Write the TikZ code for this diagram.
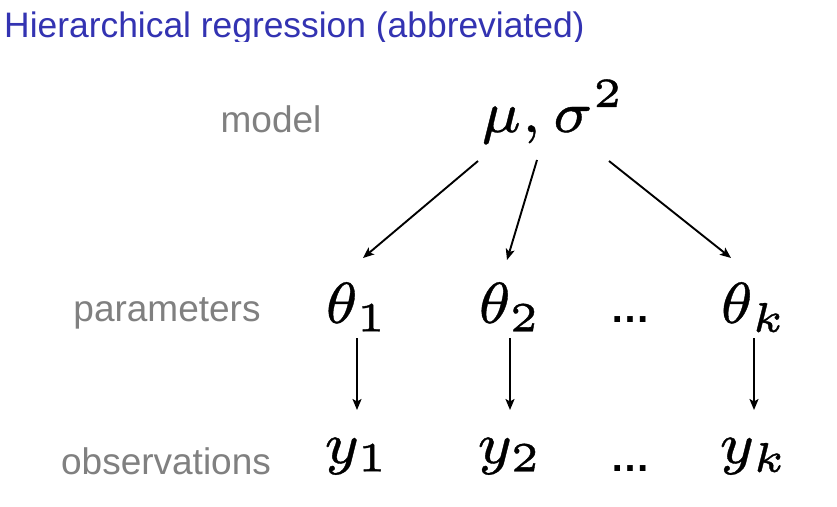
\documentclass[tikz,border=0pt]{standalone}
\usepackage{graphicx}
\usepackage[no-math]{fontspec}
\newfontfamily\labelfont{Liberation Sans}
\usetikzlibrary{arrows.meta}
\definecolor{titleblue}{RGB}{51,51,178}
\definecolor{labelgray}{RGB}{128,128,128}
\newcommand{\bigmath}[1]{\scalebox{8.3}{\special{pdf:bcontent}\special{pdf:code 2 Tr 0.045 w}\scriptsize$#1$\special{pdf:econtent}}}
\tikzset{
  titletext/.style={font=\labelfont\fontsize{35.4}{40}\selectfont, text=titleblue, inner sep=0pt},
  leveltext/.style={font=\labelfont\fontsize{37}{42}\selectfont, text=labelgray, inner sep=0pt, anchor=base},
  mathtext/.style={inner sep=0pt, anchor=base},
  dotstext/.style={font=\labelfont\bfseries\fontsize{40}{44}\selectfont, inner sep=0pt, anchor=base},
  arr/.style={line width=1.9pt, -{Stealth[length=11pt,width=9pt,inset=2.5pt]}}
}
\begin{document}
\begin{tikzpicture}[x=1pt,y=-1pt]
\useasboundingbox (0,0) rectangle (837,506);
\fill[white] (0,0) rectangle (837,506);
% title (cropped at the bottom as in the reference)
\begin{scope}
\clip (0,0) rectangle (837,41);
\node[titletext, anchor=base west] (title) at (4,37) {Hierarchical regression (abbreviated)};
\end{scope}
% level labels
\node[leveltext] (model) at (271,132) {model};
\node[leveltext] (params) at (167,321) {parameters};
\node[leveltext] (obs) at (166,474) {observations};
% math nodes
\node[mathtext, anchor=base west] (mu) at (481,132) {\bigmath{\mu,\sigma^2}};
\node[mathtext] (t1) at (357,323) {\bigmath{\theta_1}};
\node[mathtext] (t2) at (510,323) {\bigmath{\theta_2}};
\node[dotstext] (tdots) at (630,322) {…};
\node[mathtext] (tk) at (754,323) {\bigmath{\theta_k}};
\node[mathtext] (y1) at (357,463) {\bigmath{y_1}};
\node[mathtext] (y2) at (510,463) {\bigmath{y_2}};
\node[dotstext] (ydots) at (630,471) {…};
\node[mathtext] (yk) at (754,463) {\bigmath{y_k}};
% connector end points
\coordinate (mu1) at (478,161); \coordinate (t1in) at (363,258);
\coordinate (mu2) at (537,160); \coordinate (t2in) at (507,260);
\coordinate (mu3) at (609,161); \coordinate (tkin) at (731,258);
\coordinate (t1out) at (357,338); \coordinate (y1in) at (357,410);
\coordinate (t2out) at (510,338); \coordinate (y2in) at (510,410);
\coordinate (tkout) at (754,338); \coordinate (ykin) at (754,410);
\draw[arr] (mu1) -- (t1in);
\draw[arr] (mu2) -- (t2in);
\draw[arr] (mu3) -- (tkin);
\draw[arr] (t1out) -- (y1in);
\draw[arr] (t2out) -- (y2in);
\draw[arr] (tkout) -- (ykin);
\end{tikzpicture}
\end{document}
